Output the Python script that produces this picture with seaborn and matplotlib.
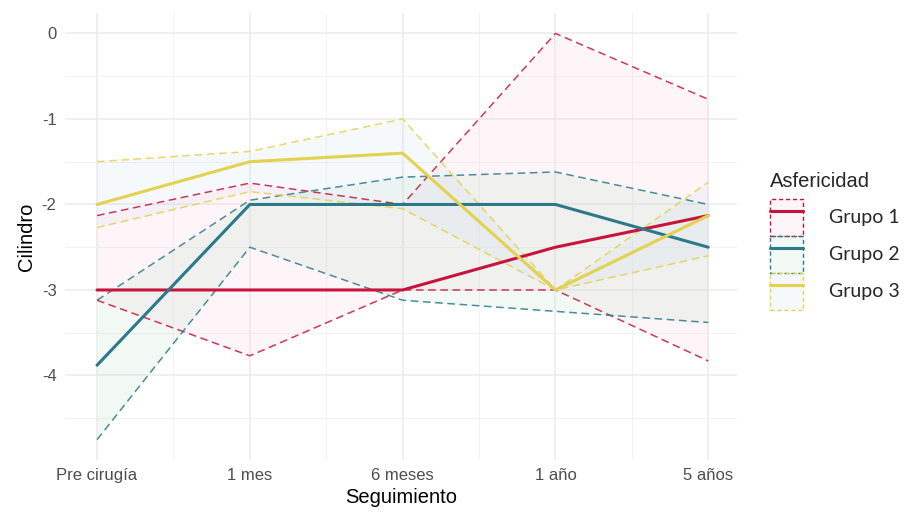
import numpy as np
import pandas as pd
import matplotlib
matplotlib.use("Agg")
import matplotlib.pyplot as plt
import seaborn as sns
from matplotlib.patches import Patch
from matplotlib.lines import Line2D
from matplotlib.legend_handler import HandlerTuple

# Follow-up time points
seguimiento = ["Pre cirugía", "1 mes", "6 meses", "1 año", "5 años"]
grupos = ["Grupo 1", "Grupo 2", "Grupo 3"]

# Mean cylinder per group
media_g1 = [-3.0, -3.0, -3.0, -2.5, -2.13]
media_g2 = [-3.88, -2.0, -2.0, -2.0, -2.5]
media_g3 = [-2.0, -1.5, -1.4, -3.0, -2.13]

# Upper and lower bounds of each group's band
sup_g1 = [-2.13, -1.75, -2.0, 0.0, -0.77]
inf_g1 = [-3.12, -3.77, -3.0, -3.0, -3.83]
sup_g2 = [-3.12, -1.95, -1.68, -1.62, -2.0]
inf_g2 = [-4.75, -2.5, -3.12, -3.25, -3.38]
sup_g3 = [-1.5, -1.38, -1.0, -3.0, -1.74]
inf_g3 = [-2.27, -1.85, -2.05, -3.0, -2.6]

line_colors = ["#C8143C", "#2A7A8A", "#E3D24E"]
fill_colors = ["#F7C6D0", "#B5DCC8", "#C9DCEE"]
fill_alpha = 0.17

rows = []
for g, m, s, i in zip(grupos,
                      [media_g1, media_g2, media_g3],
                      [sup_g1, sup_g2, sup_g3],
                      [inf_g1, inf_g2, inf_g3]):
    for k, t in enumerate(seguimiento):
        rows.append({"Seguimiento": t, "pos": k, "Asfericidad": g,
                     "media": m[k], "sup": s[k], "inf": i[k]})
df = pd.DataFrame(rows)

sns.set_theme(style="whitegrid")
plt.rcParams["font.family"] = ["Liberation Sans", "DejaVu Sans"]
fig = plt.figure(figsize=(9.11, 5.17), dpi=100)
ax = fig.add_axes([0.0713, 0.110, 0.738, 0.865])
ax.set_facecolor("white")

# Bands
for g, fc in zip(grupos, fill_colors):
    d = df[df["Asfericidad"] == g]
    ax.fill_between(d["pos"], d["inf"], d["sup"], color=fc, alpha=fill_alpha,
                    linewidth=0, zorder=1)

# Dashed band edges
for g, lc in zip(grupos, line_colors):
    d = df[df["Asfericidad"] == g]
    for col in ["sup", "inf"]:
        sns.lineplot(data=d, x="pos", y=col, ax=ax, color=lc, linewidth=1.1,
                     linestyle=(0, (5, 3)), alpha=0.85, zorder=2, legend=False)

# Mean lines
palette = dict(zip(grupos, line_colors))
sns.lineplot(data=df, x="pos", y="media", hue="Asfericidad", palette=palette,
             linewidth=2.2, ax=ax, zorder=3, legend=False)

ax.set_xlim(-0.21, 4.19)
ax.set_ylim(-4.99, 0.24)
ax.set_xticks(range(len(seguimiento)))
ax.set_xticklabels(seguimiento)
ax.set_yticks([0, -1, -2, -3, -4])
ax.set_yticklabels(["0", "-1", "-2", "-3", "-4"])
ax.set_xticks([0.5, 1.5, 2.5, 3.5], minor=True)
ax.set_yticks([-0.5, -1.5, -2.5, -3.5, -4.5], minor=True)
ax.grid(which="major", color="#EBEBEB", linewidth=1.1)
ax.grid(which="minor", color="#F2F2F2", linewidth=0.7)
ax.tick_params(axis="both", which="both", length=0, labelsize=12,
               labelcolor="#4D4D4D", pad=6)
for sp in ax.spines.values():
    sp.set_visible(False)

ax.set_xlabel("Seguimiento", fontsize=14.5, color="black", labelpad=3)
ax.set_ylabel("Cilindro", fontsize=14.5, color="black", labelpad=4)

# Legend: band swatch with the mean line on top
handles = []
for lc, fc in zip(line_colors, fill_colors):
    p = Patch(facecolor=matplotlib.colors.to_rgba(fc, fill_alpha), edgecolor=lc,
              linestyle=(0, (3, 2)), linewidth=1.0)
    l = Line2D([], [], color=lc, linewidth=2.2)
    handles.append((p, l))
leg = fig.legend(handles, grupos, title="Asfericidad",
                 handler_map={tuple: HandlerTuple(ndivide=1, pad=0)},
                 loc="upper left", bbox_to_anchor=(0.837, 0.683),
                 frameon=False, handlelength=1.7, handleheight=2.55,
                 handletextpad=1.3, labelspacing=0.0,
                 borderaxespad=0.0,
                 prop={"family": "Lato", "size": 14},
                 title_fontproperties={"family": "Liberation Sans", "size": 14.5})
leg._legend_box.align = "left"
leg._legend_box.sep = 6

fig.savefig("out.png", dpi=100)
